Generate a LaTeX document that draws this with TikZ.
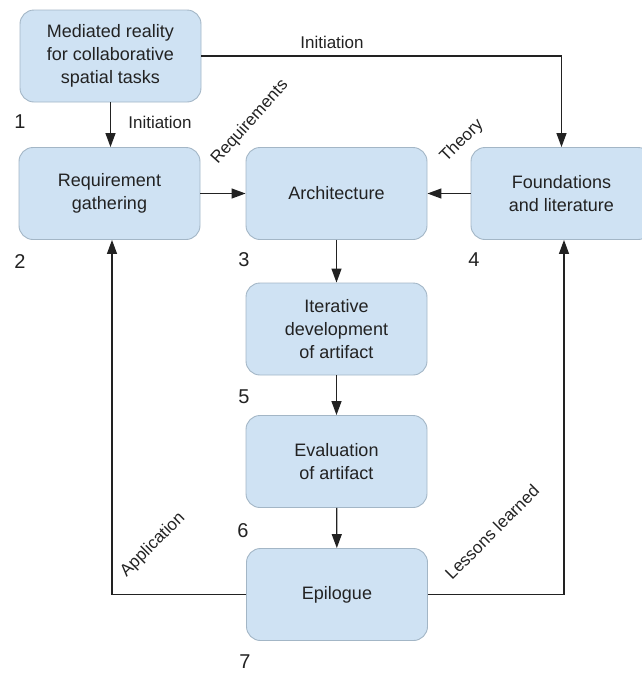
\documentclass[tikz,border=0pt]{standalone}
\usepackage{fontspec}
\setmainfont{Liberation Sans}
\usetikzlibrary{arrows.meta}
\definecolor{boxfill}{HTML}{CFE2F3}
\definecolor{boxline}{HTML}{A3B6C6}
\definecolor{ink}{HTML}{222222}
\begin{document}
\begin{tikzpicture}[x=1pt,y=-1pt,
  stage/.style={draw=boxline, line width=0.9pt, fill=boxfill, rounded corners=14pt,
    minimum width=181pt, minimum height=92pt, inner sep=0pt, align=center,
    text=ink, font=\fontsize{18}{23}\selectfont},
  flow/.style={draw=ink, line width=1.3pt, -{Triangle[width=10pt,length=14pt]}},
  tag/.style={text=ink, font=\fontsize{17}{20}\selectfont, inner sep=0pt},
  num/.style={text=ink, font=\fontsize{20}{22}\selectfont, inner sep=0pt}]
\useasboundingbox (0,0) rectangle (641,673);

% stages
\node[stage] (b1) at (110.5,56)  {Mediated reality\\for collaborative\\spatial tasks};
\node[stage] (b2) at (109.5,193.5) {Requirement\\gathering};
\node[stage] (b3) at (336.5,193.5) {Architecture};
\node[stage] (b4) at (561.5,193.5) {Foundations\\and literature};
\node[stage] (b5) at (336.5,329) {Iterative\\development\\of artifact};
\node[stage] (b6) at (336.5,461.5) {Evaluation\\of artifact};
\node[stage] (b7) at (337,594.5) {Epilogue};

% stage numbers
\node[num] (n1) at (20,122) {1};
\node[num] (n2) at (20,262) {2};
\node[num] (n3) at (244,260) {3};
\node[num] (n4) at (474,260) {4};
\node[num] (n5) at (244,397) {5};
\node[num] (n6) at (243,531) {6};
\node[num] (n7) at (245,662) {7};

% connectors
\draw[flow] (b1.south) -- (b1.south |- b2.north);
\draw[flow] (b1.east) -| (b4.north);
\draw[flow] (b2) -- (b3);
\draw[flow] (b4) -- (b3);
\draw[flow] (b3) -- (b5);
\draw[flow] (b5) -- (b6);
\draw[flow] (b6) -- (b7);
\draw[flow] (b7.west) -| ([xshift=2.5pt]b2.south);
\draw[flow] (b7.east) -| ([xshift=2.5pt]b4.south);

% connector labels
\node[tag] (l1) at (332,42) {Initiation};
\node[tag] (l2) at (160,122) {Initiation};
\node[tag, rotate=48] (l3) at (250,122) {Requirements};
\node[tag, rotate=45] (l4) at (462,141) {Theory};
\node[tag, rotate=45] (l5) at (153,545) {Application};
\node[tag, rotate=45] (l6) at (492,532) {Lessons learned};
\end{tikzpicture}
\end{document}
